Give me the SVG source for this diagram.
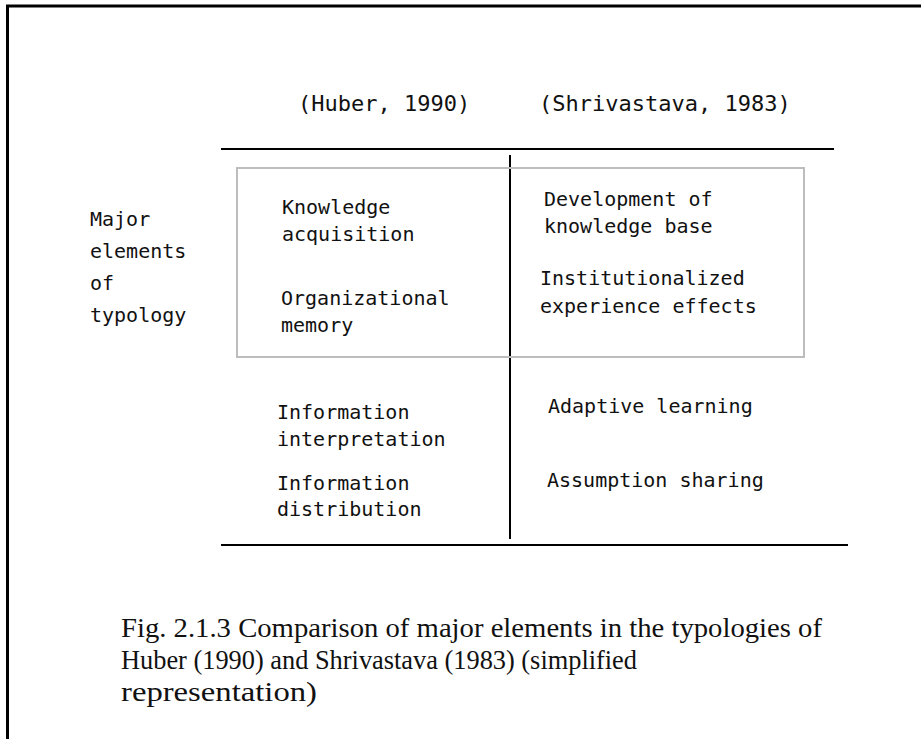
<svg xmlns="http://www.w3.org/2000/svg" width="921" height="739" viewBox="0 0 921 739">
  <style>
    .mono { font-family: "DejaVu Sans Mono", "Liberation Mono", monospace; fill: #111; }
    .body { font-size: 20px; }
    .head { font-size: 22px; }
    .cap { font-family: "Liberation Serif", serif; font-size: 27px; fill: #111; }
    .rule { stroke: #000; stroke-width: 2; fill: none; }
    .frame { stroke: #000; stroke-width: 3; fill: none; }
    .box { stroke: #bdbdbd; stroke-width: 2; fill: none; }
  </style>
  <rect width="921" height="739" fill="#fff"/>

  <!-- page frame (top and left edges) -->
  <path class="frame" d="M7.5 739 V6 H921"/>

  <!-- column headers -->
  <g id="header-huber">
    <text class="mono head" x="298" y="111">(Huber, 1990)</text>
  </g>
  <g id="header-shrivastava">
    <text class="mono head" x="539" y="111">(Shrivastava, 1983)</text>
  </g>

  <!-- table rules -->
  <g id="connectors">
    <line class="rule" x1="221" y1="149" x2="834" y2="149"/>
    <line class="rule" x1="510" y1="155" x2="510" y2="539"/>
    <line class="rule" x1="221" y1="545" x2="848" y2="545"/>
    <rect class="box" x="237" y="168" width="567" height="189"/>
  </g>

  <g id="row-label">
    <text class="mono body" x="90" y="226">Major</text>
    <text class="mono body" x="90" y="258">elements</text>
    <text class="mono body" x="90" y="290">of</text>
    <text class="mono body" x="90" y="322">typology</text>
  </g>

  <g id="knowledge-acquisition">
    <text class="mono body" x="282" y="214">Knowledge</text>
    <text class="mono body" x="282" y="241">acquisition</text>
  </g>
  <g id="organizational-memory">
    <text class="mono body" x="281" y="305">Organizational</text>
    <text class="mono body" x="281" y="332">memory</text>
  </g>
  <g id="development-knowledge-base">
    <text class="mono body" x="544" y="206">Development of</text>
    <text class="mono body" x="544" y="233">knowledge base</text>
  </g>
  <g id="institutionalized-effects">
    <text class="mono body" x="540" y="285">Institutionalized</text>
    <text class="mono body" x="540" y="313">experience effects</text>
  </g>

  <g id="information-interpretation">
    <text class="mono body" x="277" y="419">Information</text>
    <text class="mono body" x="277" y="446">interpretation</text>
  </g>
  <g id="information-distribution">
    <text class="mono body" x="277" y="490">Information</text>
    <text class="mono body" x="277" y="516">distribution</text>
  </g>
  <g id="adaptive-learning">
    <text class="mono body" x="548" y="413">Adaptive learning</text>
  </g>
  <g id="assumption-sharing">
    <text class="mono body" x="547" y="487">Assumption sharing</text>
  </g>

  <!-- caption -->
  <g id="caption">
    <text class="cap" x="121" y="637" textLength="701" lengthAdjust="spacingAndGlyphs">Fig. 2.1.3 Comparison of major elements in the typologies of</text>
    <text class="cap" x="121" y="669" textLength="516" lengthAdjust="spacingAndGlyphs">Huber (1990) and Shrivastava (1983) (simplified</text>
    <text class="cap" x="121" y="701" textLength="196" lengthAdjust="spacingAndGlyphs">representation)</text>
  </g>
</svg>
